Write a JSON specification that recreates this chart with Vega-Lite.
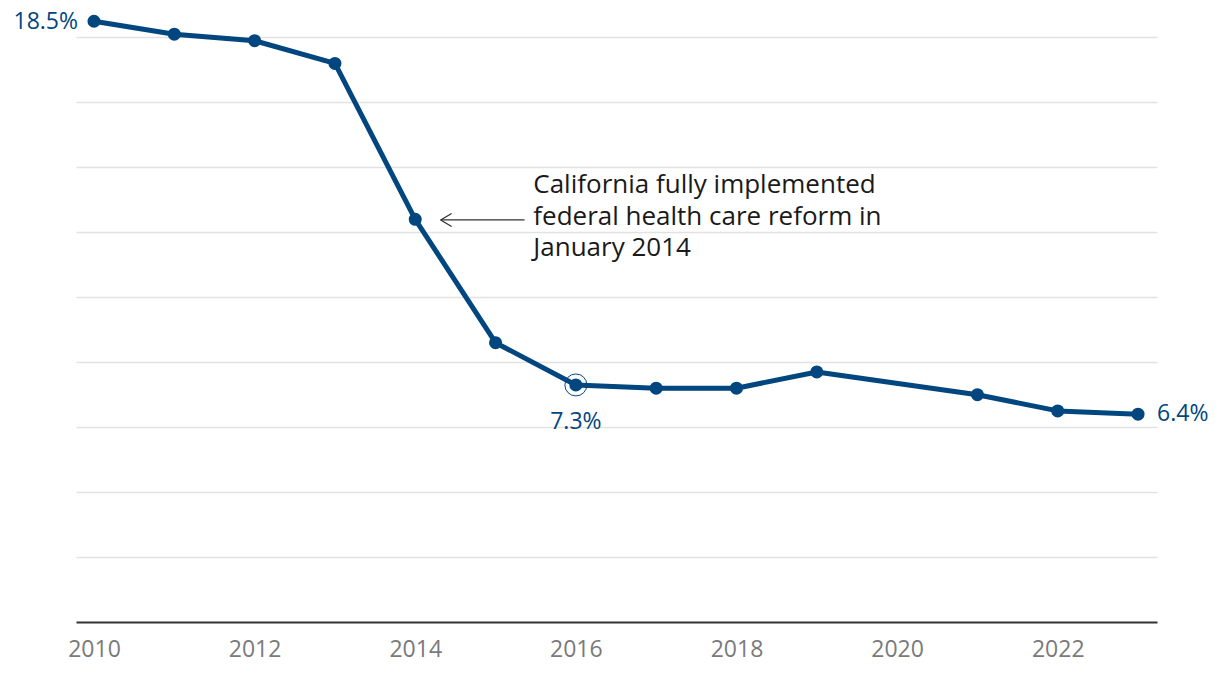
{
  "$schema": "https://vega.github.io/schema/vega-lite/v6.json",
  "width": 1081,
  "height": 617,
  "autosize": {"type": "none"},
  "padding": {"left": 76, "top": 5, "right": 63, "bottom": 56},
  "background": "white",
  "config": {
    "view": {"stroke": null},
    "font": "Open Sans",
    "axis": {"labelFont": "Open Sans", "titleFont": "Open Sans"}
  },
  "datasets": {
    "series": [
      {"year": 2010, "rate": 18.5},
      {"year": 2011, "rate": 18.1},
      {"year": 2012, "rate": 17.9},
      {"year": 2013, "rate": 17.2},
      {"year": 2014, "rate": 12.4},
      {"year": 2015, "rate": 8.6},
      {"year": 2016, "rate": 7.3},
      {"year": 2017, "rate": 7.2},
      {"year": 2018, "rate": 7.2},
      {"year": 2019, "rate": 7.7},
      {"year": 2021, "rate": 7.0},
      {"year": 2022, "rate": 6.5},
      {"year": 2023, "rate": 6.4}
    ],
    "labels": [
      {"year": 2010, "rate": 18.5, "label": "18.5%", "pos": "left"},
      {"year": 2016, "rate": 7.3, "label": "7.3%", "pos": "below"},
      {"year": 2023, "rate": 6.4, "label": "6.4%", "pos": "right"}
    ],
    "note": [
      {"x": 2015.47, "y": 13.197, "line": "California fully implemented"},
      {"x": 2015.47, "y": 12.227, "line": "federal health care reform in"},
      {"x": 2015.47, "y": 11.257, "line": "January 2014"}
    ],
    "arrow": [
      {"x": 2014.316, "y": 12.381, "x2": 2015.361, "y2": 12.381},
      {"x": 2014.316, "y": 12.381, "x2": 2014.453, "y2": 12.581},
      {"x": 2014.316, "y": 12.381, "x2": 2014.453, "y2": 12.181}
    ]
  },
  "layer": [
    {
      "data": {"name": "series"},
      "mark": {"type": "line", "color": "#01467f", "strokeWidth": 5, "strokeJoin": "round"},
      "encoding": {
        "x": {
          "field": "year", "type": "quantitative",
          "scale": {"domain": [2009.776, 2023.236], "nice": false, "zero": false},
          "axis": {
            "values": [2010, 2012, 2014, 2016, 2018, 2020, 2022],
            "format": "d", "title": null, "grid": false, "ticks": false,
            "labelFontSize": 23, "labelColor": "#7a7a7a", "labelPadding": 16,
            "domainColor": "#333333", "domainWidth": 2
          }
        },
        "y": {
          "field": "rate", "type": "quantitative",
          "scale": {"domain": [0, 19], "nice": false},
          "axis": {
            "values": [2, 4, 6, 8, 10, 12, 14, 16, 18],
            "title": null, "labels": false, "ticks": false, "domain": false,
            "grid": true, "gridColor": "#e2e2e2", "gridWidth": 1.5
          }
        }
      }
    },
    {
      "data": {"name": "series"},
      "mark": {"type": "point", "filled": true, "color": "#01467f", "size": 170, "opacity": 1},
      "encoding": {
        "x": {"field": "year", "type": "quantitative"},
        "y": {"field": "rate", "type": "quantitative"}
      }
    },
    {
      "data": {"name": "labels"},
      "transform": [{"filter": "datum.pos == 'below'"}],
      "mark": {"type": "point", "filled": false, "color": "#01467f", "size": 484, "strokeWidth": 1, "opacity": 1},
      "encoding": {
        "x": {"field": "year", "type": "quantitative"},
        "y": {"field": "rate", "type": "quantitative"}
      }
    },
    {
      "data": {"name": "labels"},
      "transform": [{"filter": "datum.pos == 'left'"}],
      "mark": {"type": "text", "align": "right", "baseline": "middle", "dx": -16, "dy": 1, "fontSize": 23, "color": "#01467f"},
      "encoding": {
        "x": {"field": "year", "type": "quantitative"},
        "y": {"field": "rate", "type": "quantitative"},
        "text": {"field": "label"}
      }
    },
    {
      "data": {"name": "labels"},
      "transform": [{"filter": "datum.pos == 'below'"}],
      "mark": {"type": "text", "align": "center", "baseline": "middle", "dx": 0, "dy": 37, "fontSize": 23, "color": "#01467f"},
      "encoding": {
        "x": {"field": "year", "type": "quantitative"},
        "y": {"field": "rate", "type": "quantitative"},
        "text": {"field": "label"}
      }
    },
    {
      "data": {"name": "labels"},
      "transform": [{"filter": "datum.pos == 'right'"}],
      "mark": {"type": "text", "align": "left", "baseline": "middle", "dx": 19, "dy": 0, "fontSize": 23, "color": "#01467f"},
      "encoding": {
        "x": {"field": "year", "type": "quantitative"},
        "y": {"field": "rate", "type": "quantitative"},
        "text": {"field": "label"}
      }
    },
    {
      "data": {"name": "note"},
      "mark": {"type": "text", "align": "left", "baseline": "alphabetic", "fontSize": 26, "color": "#1a1a1a"},
      "encoding": {
        "x": {"field": "x", "type": "quantitative"},
        "y": {"field": "y", "type": "quantitative"},
        "text": {"field": "line"}
      }
    },
    {
      "data": {"name": "arrow"},
      "mark": {"type": "rule", "color": "#333333", "strokeWidth": 1.3},
      "encoding": {
        "x": {"field": "x", "type": "quantitative"},
        "y": {"field": "y", "type": "quantitative"},
        "x2": {"field": "x2"},
        "y2": {"field": "y2"}
      }
    }
  ]
}
